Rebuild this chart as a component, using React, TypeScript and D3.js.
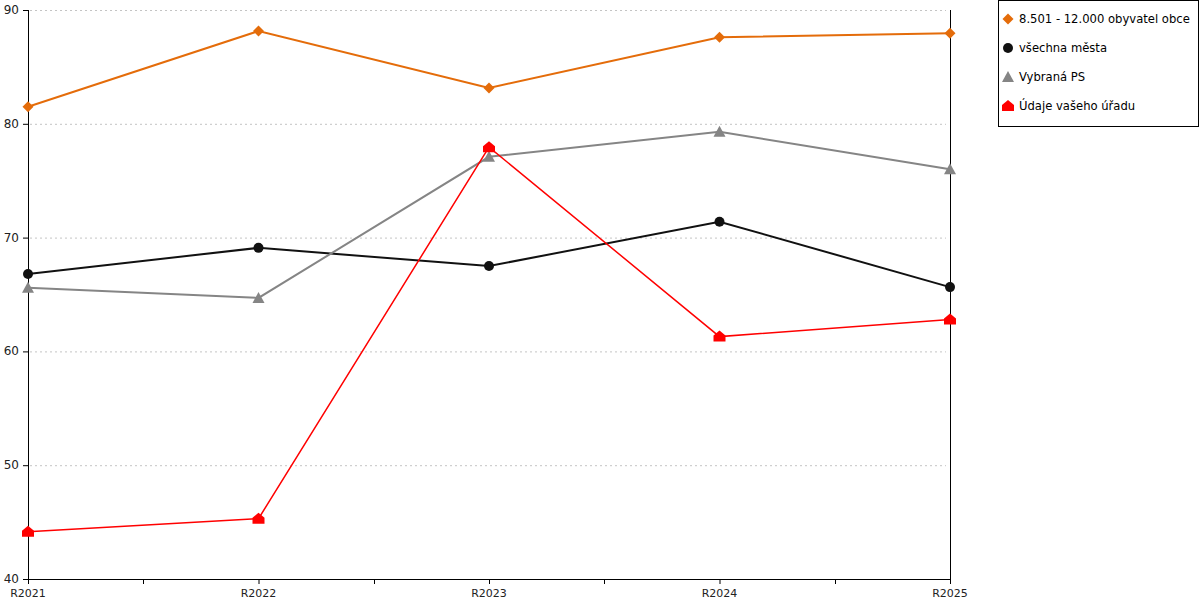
import React, { useEffect, useRef } from "react";
import * as d3 from "d3";

const categories = ["R2021", "R2022", "R2023", "R2024", "R2025"];
const yTicks = [40, 50, 60, 70, 80, 90];

const orangeValues = [81.5, 88.15, 83.15, 87.6, 87.95];
const blackValues = [66.8, 69.1, 67.5, 71.4, 65.65];
const grayValues = [65.6, 64.7, 77.1, 79.3, 76.0];
const redValues = [44.15, 45.3, 77.95, 61.3, 62.8];

type Series = { name: string; values: number[]; color: string; marker: string; width: number };

const series: Series[] = [
  { name: "8.501 - 12.000 obyvatel obce", values: orangeValues, color: "#E46C0A", marker: "diamond", width: 2 },
  { name: "všechna města", values: blackValues, color: "#111", marker: "circle", width: 2 },
  { name: "Vybraná PS", values: grayValues, color: "#858585", marker: "triangle", width: 2 },
  { name: "Údaje vašeho úřadu", values: redValues, color: "#FF0000", marker: "house", width: 1.5 },
];

const font = "Verdana, 'DejaVu Sans', sans-serif";

function drawMarker(g: d3.Selection<SVGGElement, unknown, null, undefined>, kind: string, x: number, y: number, color: string) {
  if (kind === "diamond") {
    g.append("path").attr("d", `M${x},${y - 5.5}L${x + 5.5},${y}L${x},${y + 5.5}L${x - 5.5},${y}Z`).attr("fill", color);
  } else if (kind === "circle") {
    g.append("circle").attr("cx", x).attr("cy", y).attr("r", 5).attr("fill", color);
  } else if (kind === "triangle") {
    g.append("path").attr("d", `M${x},${y - 6}L${x + 6},${y + 5}L${x - 6},${y + 5}Z`).attr("fill", color);
  } else {
    g.append("path")
      .attr("d", `M${x},${y - 6}L${x + 6},${y - 1}L${x + 6},${y + 5}L${x - 6},${y + 5}L${x - 6},${y - 1}Z`)
      .attr("fill", color);
  }
}

export default function App() {
  const ref = useRef<SVGSVGElement>(null);

  useEffect(() => {
    if (!ref.current) return;
    const svg = d3.select(ref.current);
    svg.selectAll("*").remove();

    const left = 28, right = 950, top = 10, bottom = 579;
    const x = d3.scalePoint<string>().domain(categories).range([left, right]);
    const y = d3.scaleLinear().domain([40, 90]).range([bottom, top]);

    const g = svg.append("g");

    // grid
    g.append("g")
      .selectAll("line")
      .data(yTicks.filter(t => t !== 40))
      .join("line")
      .attr("x1", left + 2)
      .attr("x2", right - 4)
      .attr("y1", d => y(d) + 0.5)
      .attr("y2", d => y(d) + 0.5)
      .attr("stroke", "#c4c4c4")
      .attr("stroke-dasharray", "2,3");

    // y axis
    g.append("line").attr("x1", left + 0.5).attr("x2", left + 0.5).attr("y1", top).attr("y2", bottom).attr("stroke", "#000");
    g.append("line").attr("x1", right + 0.5).attr("x2", right + 0.5).attr("y1", top).attr("y2", bottom).attr("stroke", "#000");
    yTicks.forEach(t => {
      g.append("line").attr("x1", left - 5).attr("x2", left).attr("y1", y(t) + 0.5).attr("y2", y(t) + 0.5).attr("stroke", "#000");
      g.append("text")
        .attr("x", left - 9)
        .attr("y", y(t) + 4)
        .attr("text-anchor", "end")
        .attr("font-family", font)
        .attr("font-size", 12)
        .attr("fill", "#222")
        .text(t);
    });

    // x axis
    g.append("line").attr("x1", left).attr("x2", right).attr("y1", bottom + 0.5).attr("y2", bottom + 0.5).attr("stroke", "#000");
    const step = x.step();
    categories.forEach((c, i) => {
      const cx = x(c)!;
      g.append("line").attr("x1", cx + 0.5).attr("x2", cx + 0.5).attr("y1", bottom).attr("y2", bottom + 5).attr("stroke", "#000");
      if (i < categories.length - 1) {
        const mx = Math.round(cx + step / 2);
        g.append("line").attr("x1", mx + 0.5).attr("x2", mx + 0.5).attr("y1", bottom).attr("y2", bottom + 5).attr("stroke", "#000");
      }
      g.append("text")
        .attr("x", cx)
        .attr("y", bottom + 18)
        .attr("text-anchor", "middle")
        .attr("font-family", font)
        .attr("font-size", 11)
        .attr("fill", "#222")
        .text(c);
    });

    // lines
    const line = d3.line<number>().x((_, i) => x(categories[i])!).y(d => y(d));
    series.forEach(s => {
      g.append("path")
        .attr("d", line(s.values)!)
        .attr("fill", "none")
        .attr("stroke", s.color)
        .attr("stroke-width", s.width);
    });
    series.forEach(s => {
      const mg = g.append("g");
      s.values.forEach((v, i) => drawMarker(mg, s.marker, x(categories[i])!, y(v), s.color));
    });

    // legend
    const lg = svg.append("g").attr("transform", "translate(998,0)");
    lg.append("rect").attr("x", 0.5).attr("y", 0.5).attr("width", 200).attr("height", 126).attr("fill", "#fff").attr("stroke", "#000");
    series.forEach((s, i) => {
      const ly = 19 + i * 29;
      drawMarker(lg, s.marker, 10, ly, s.color);
      lg.append("text")
        .attr("x", 21)
        .attr("y", ly + 4)
        .attr("font-family", font)
        .attr("font-size", 11.6)
        .attr("fill", "#000")
        .text(s.name);
    });
  }, []);

  return <svg ref={ref} width={1200} height={600} style={{ position: "absolute", left: 0, top: 0 }} />;
}
